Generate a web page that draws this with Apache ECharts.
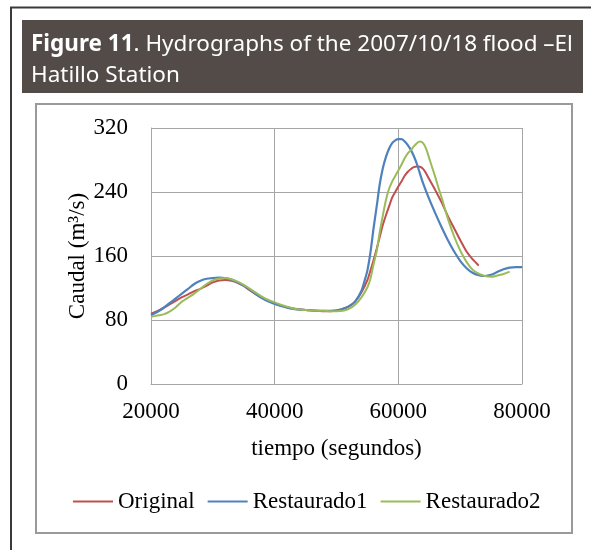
<!DOCTYPE html>
<html>
<head>
<meta charset="utf-8">
<script src="https://cdn.jsdelivr.net/npm/echarts@6/dist/echarts.min.js"></script>
<style>
html,body{margin:0;padding:0;background:#fff;}
#c{width:591px;height:550px;}
</style>
</head>
<body>
<div id="c"></div>
<script>
// ---- data ----
const seriesNames = ['Original', 'Restaurado1', 'Restaurado2'];
const xTicks = [20000, 40000, 60000, 80000];
const yTicks = [0, 80, 160, 240, 320];

const originalTime = [20000,21000,22000,23000,24000,25000,26000,27000,28000,29000,30000,31000,32000,33000,34000,35000,36000,37000,38000,39000,40000,41000,42000,43000,44000,45000,46000,47000,48000,49000,50000,51000,52000,53000,54000,55000,55500,56000,56500,57000,57500,58000,58500,59000,59500,60000,60500,61000,61500,62000,62500,63000,63500,64000,64500,65000,65500,66000,67000,68000,69000,70000,71000,72000,72500,73000];
const originalFlow = [88,91,95,99.5,104,108.5,112,116,119,123,127,129.5,130,129,126.5,122.5,117,112,107.5,104,101,98,96,94.5,93.5,92.5,92,91.5,91,91,91.5,93.5,97,103,114,130,142,155,169,184,199,211,222,233,240,247,253,260,265,268.5,271,272,271.5,269,263,256,249,242,227,210,195,180,166,156,152,148];

const rest1Time = [20000,21000,22000,23000,24000,25000,26000,27000,28000,29000,30000,31000,32000,33000,34000,35000,36000,37000,38000,39000,40000,41000,42000,43000,44000,45000,46000,47000,48000,49000,50000,51000,52000,53000,54000,54500,55000,55500,56000,56500,57000,57500,58000,58500,59000,59500,60000,60500,61000,61500,62000,62500,63000,64000,65000,66000,67000,68000,69000,70000,71000,72000,73000,74000,75000,76000,77000,78000,79000,80000];
const rest1Flow = [86,90,95,101,107,113,119,125,129,131.5,132.5,133,132.5,130.5,127,123,118,112,107,103,100,97.5,95.5,94,93,92.5,92,91.5,91.5,91.5,92,94,97,103,116,128,142,165,195,222,250,270,284,294,301,304.5,306,306,303.5,299,293,285,275,251,231,213,196,180,166,154,145,139,136,135,136.5,140,143.5,145.5,146,146];

const rest2Time = [20000,21000,22000,23000,24000,25000,26000,27000,28000,29000,30000,31000,32000,33000,34000,35000,36000,37000,38000,39000,40000,41000,42000,43000,44000,45000,46000,47000,48000,49000,50000,51000,52000,53000,54000,55000,55500,56000,56500,57000,57500,58000,58500,59000,59500,60000,60500,61000,61500,62000,62500,63000,63500,64000,64500,65000,65500,66000,66500,67000,68000,69000,70000,71000,72000,73000,74000,75000,76000,77000,78000];
const rest2Flow = [84,85.5,87,90.5,96,103,108,113,119,125,129.5,132,132.5,131,128,124,119,114,109,105,102,99,96.5,94.5,93,92.5,92,91.5,91.5,91,91,91.5,94,99,108,121,132,150,166,190,211,230,244,253,260,267,274,282,288,292,297,301,303,301,294,282,270,258,245,233,207,185,167,153,143,138,135,134,135.5,137.5,140.5];

const colors = ['#C0504D', '#4F81BD', '#9BBB59'];

function pairs(t, q) { return t.map((v, i) => [v, q[i]]); }

const serif = '"Liberation Serif", "Times New Roman", serif';
const sans = '"Noto Sans", sans-serif';
const chart = echarts.init(document.getElementById('c'), null, {renderer: 'canvas'});

chart.setOption({
  backgroundColor: '#fff',
  animation: false,
  graphic: [
    { type: 'rect', shape: {x: 11, y: 7.5, width: 640, height: 600}, style: {fill: 'none', stroke: '#3a3a3a', lineWidth: 2}, z: 0 },
    { type: 'rect', shape: {x: 22, y: 20, width: 561, height: 73}, style: {fill: '#534b47'}, z: 0 },
    { type: 'text', x: 31, y: 29, style: {
        text: '{b|Figure 11}{r|. Hydrographs of the 2007/10/18 flood \u2013El}\n{r|Hatillo Station}',
        fill: '#fff', font: '22.5px ' + sans, lineHeight: 31,
        rich: {
          b: { fontWeight: 'bold', fontSize: 22.5, fontFamily: sans, fill: '#fff', lineHeight: 31 },
          r: { fontSize: 22.5, fontFamily: sans, fill: '#fff', lineHeight: 31 }
        }
      }, z: 1 },
    { type: 'rect', shape: {x: 36, y: 104, width: 536, height: 429}, style: {fill: 'none', stroke: '#9a9a9a', lineWidth: 2}, z: 0 }
  ],
  grid: { left: 151, right: 69, top: 128, bottom: 166, containLabel: false, outerBoundsMode: 'none' },
  legend: {
    data: seriesNames,
    left: 73, top: 490, padding: 0,
    icon: 'rect',
    itemWidth: 40, itemHeight: 2, itemGap: 13,
    textStyle: { fontFamily: serif, fontSize: 23, color: '#000' }
  },
  xAxis: {
    type: 'value', min: xTicks[0], max: xTicks[xTicks.length - 1], interval: 20000,
    name: 'tiempo (segundos)', nameLocation: 'middle', nameGap: 53, nameMoveOverlap: false,
    nameTextStyle: { fontFamily: serif, fontSize: 23, color: '#000' },
    axisLine: { show: true, lineStyle: { color: '#a6a6a6', width: 1 } },
    axisTick: { show: false },
    axisLabel: { fontFamily: serif, fontSize: 23, color: '#000', margin: 16, formatter: v => String(v) },
    splitLine: { show: true, lineStyle: { color: '#a6a6a6', width: 1 } }
  },
  yAxis: {
    type: 'value', min: yTicks[0], max: yTicks[yTicks.length - 1], interval: 80,
    name: 'Caudal (m\u00b3/s)', nameLocation: 'middle', nameGap: 62, nameMoveOverlap: false,
    nameTextStyle: { fontFamily: serif, fontSize: 23, color: '#000' },
    axisLine: { show: true, lineStyle: { color: '#a6a6a6', width: 1 } },
    axisTick: { show: false },
    axisLabel: { fontFamily: serif, fontSize: 23, color: '#000', margin: 23, formatter: v => String(v) },
    splitLine: { show: true, lineStyle: { color: '#a6a6a6', width: 1 } }
  },
  series: [
    { name: seriesNames[0], type: 'line', data: pairs(originalTime, originalFlow), symbol: 'none', smooth: 0.3, lineStyle: { color: colors[0], width: 2 }, itemStyle: { color: colors[0] }, z: 3 },
    { name: seriesNames[1], type: 'line', data: pairs(rest1Time, rest1Flow), symbol: 'none', smooth: 0.3, lineStyle: { color: colors[1], width: 2.2 }, itemStyle: { color: colors[1] }, z: 4 },
    { name: seriesNames[2], type: 'line', data: pairs(rest2Time, rest2Flow), symbol: 'none', smooth: 0.3, lineStyle: { color: colors[2], width: 2 }, itemStyle: { color: colors[2] }, z: 5 }
  ]
});
</script>
</body>
</html>
